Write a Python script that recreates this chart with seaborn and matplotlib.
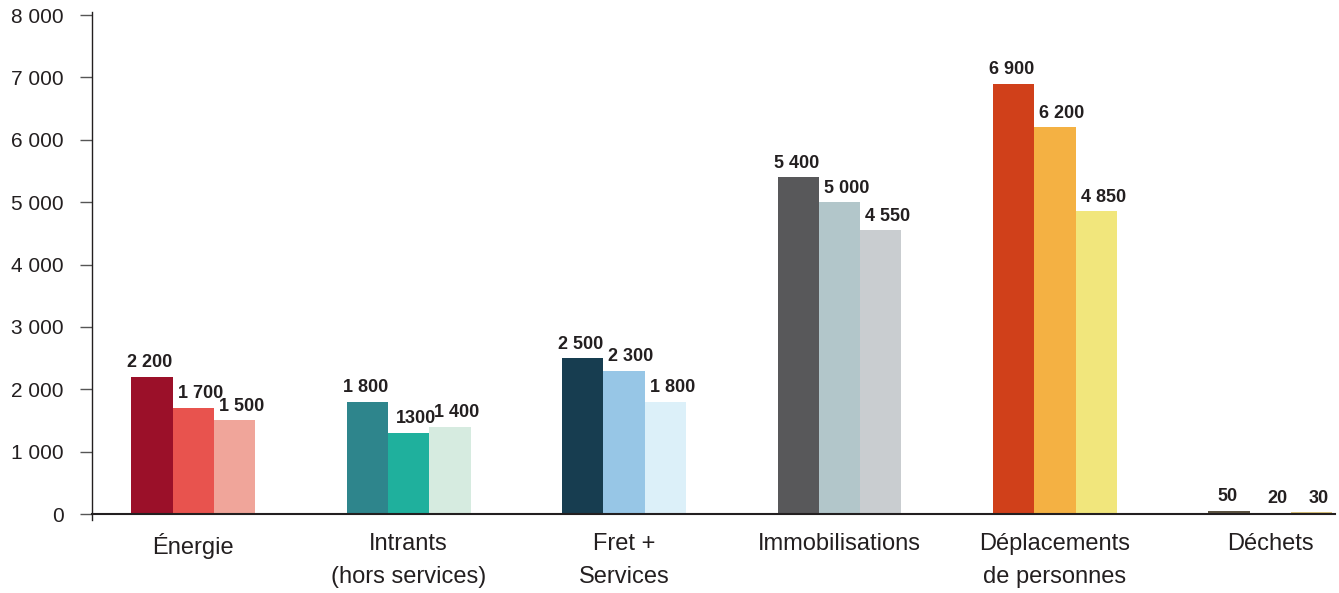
import matplotlib
matplotlib.use("Agg")
import matplotlib.pyplot as plt
import seaborn as sns
import pandas as pd

# Émissions par poste, trois scénarios
categories = ["Énergie", "Intrants\n(hors services)", "Fret +\nServices",
              "Immobilisations", "Déplacements\nde personnes", "Déchets"]
serie_1 = [2200, 1800, 2500, 5400, 6900, 50]
serie_2 = [1700, 1300, 2300, 5000, 6200, 20]
serie_3 = [1500, 1400, 1800, 4550, 4850, 30]
etiquettes_1 = ["2 200", "1 800", "2 500", "5 400", "6 900", "50"]
etiquettes_2 = ["1 700", "1300", "2 300", "5 000", "6 200", "20"]
etiquettes_3 = ["1 500", "1 400", "1 800", "4 550", "4 850", "30"]
yticks = [0, 1000, 2000, 3000, 4000, 5000, 6000, 7000, 8000]
ytick_labels = ["0", "1 000", "2 000", "3 000", "4 000", "5 000", "6 000", "7 000", "8 000"]

# one colour triple per category (dark → light)
couleurs = [
    ["#9b1029", "#e8534e", "#f0a59a"],
    ["#2e858c", "#1fb09d", "#d6ebe0"],
    ["#173d50", "#97c6e6", "#dcf0f9"],
    ["#58585a", "#b2c6ca", "#c9cdd0"],
    ["#d0401a", "#f4b143", "#f1e67c"],
    ["#5a5240", "#7a4a2a", "#d9c178"],
]

sns.set_theme(style="white")
plt.rcParams["font.family"] = ["Liberation Sans", "DejaVu Sans"]
texte = "#231f20"

df = pd.DataFrame({
    "poste": categories * 3,
    "serie": ["s1"] * 6 + ["s2"] * 6 + ["s3"] * 6,
    "valeur": serie_1 + serie_2 + serie_3,
})

fig = plt.figure(figsize=(13.39, 5.93), dpi=100)
ax = fig.add_axes([0.0687, 0.1332, 0.9283, 0.8415])

sns.barplot(data=df, x="poste", y="valeur", hue="serie", order=categories,
            hue_order=["s1", "s2", "s3"], width=0.575, dodge=True,
            saturation=1, legend=False, ax=ax, errorbar=None)

etiquettes = [etiquettes_1, etiquettes_2, etiquettes_3]
decalages = [-2, 7, 7]  # horizontal nudge of the value labels, in pixels
for k, cont in enumerate(ax.containers):
    for i, patch in enumerate(cont.patches):
        patch.set_facecolor(couleurs[i][k])
        patch.set_edgecolor("none")
        patch.set_linewidth(0)
    textes = ax.bar_label(cont, labels=etiquettes[k], padding=4, fontsize=13,
                          fontweight="bold", color=texte)
    for t in textes:
        t.xyann = (decalages[k] * 0.72, t.xyann[1])

ax.set_xlim(-0.47, 5.3)
ax.set_ylim(0, 8000)
ax.set_yticks(yticks)
ax.set_yticklabels(ytick_labels)
ax.set_xlabel("")
ax.set_ylabel("")

for s in ["top", "right"]:
    ax.spines[s].set_visible(False)
ax.spines["left"].set_color(texte)
ax.spines["left"].set_linewidth(1.0)
ax.spines["left"].set_bounds(-100, 8050)
ax.spines["bottom"].set_color(texte)
ax.spines["bottom"].set_linewidth(1.5)

ax.tick_params(axis="y", length=8.6, width=1, color="#555555", pad=12,
               labelsize=15, labelcolor=texte, left=True, direction="out")
ax.tick_params(axis="x", length=0, pad=14, labelsize=17, labelcolor=texte)
for lab in ax.get_xticklabels():
    lab.set_linespacing(1.62)
    lab.set_verticalalignment("top")

fig.savefig("out.png", dpi=100, facecolor="white")
